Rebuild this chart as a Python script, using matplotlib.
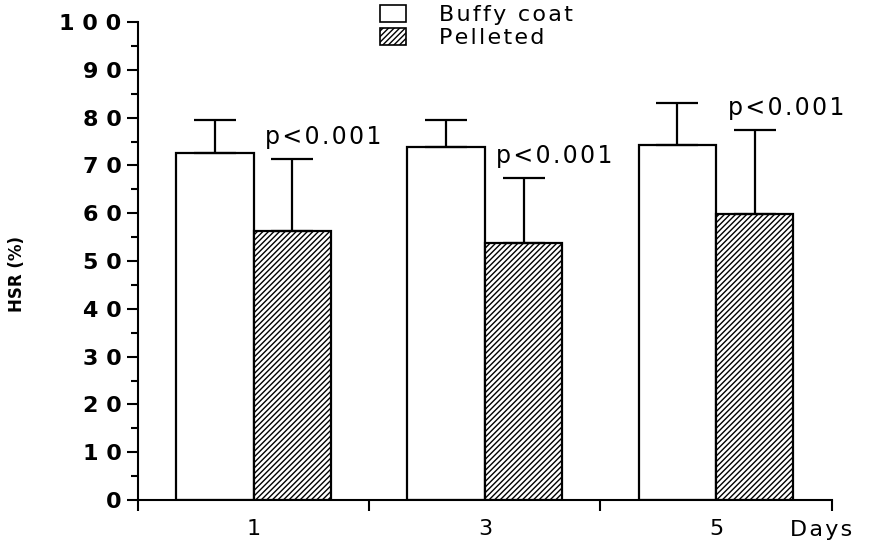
import matplotlib.pyplot as plt
import matplotlib.patches as mpatches
import numpy as np

days = ["1", "3", "5"]
buffy_mean = [72.6, 73.8, 74.3]
buffy_err = [6.9, 5.7, 8.8]
pellet_mean = [56.3, 53.8, 59.8]
pellet_err = [15.0, 13.6, 17.6]
p_labels = ["p<0.001", "p<0.001", "p<0.001"]
y_ticks = [0, 10, 20, 30, 40, 50, 60, 70, 80, 90, 100]

HAIR = "\u200a"


def spaced(s):
	# a bit of letter spacing, the original typeface is wide
	return HAIR.join(s)


plt.rcParams['hatch.linewidth'] = 1.0

fig = plt.figure(figsize=(8.69, 5.48), dpi=100)
ax = fig.add_axes([0.159, 0.0876, 0.798, 0.872])

x = np.arange(len(days))
w = 0.335
ax.bar(x - w / 2, buffy_mean, w, color="white", edgecolor="black", linewidth=1.6,
	yerr=[np.zeros(3), buffy_err], capsize=15,
	error_kw=dict(elinewidth=1.6, capthick=1.6, ecolor="black"))
ax.bar(x + w / 2, pellet_mean, w, color="white", edgecolor="black", linewidth=1.6,
	hatch="//////",
	yerr=[np.zeros(3), pellet_err], capsize=15,
	error_kw=dict(elinewidth=1.6, capthick=1.6, ecolor="black"))

for i, lab in enumerate(p_labels):
	ax.text(x[i] + 0.05, pellet_mean[i] + pellet_err[i] + 3.2, spaced(lab),
		fontsize=17, ha="left", va="baseline")

ax.set_xlim(-0.5, len(days) - 0.5)
ax.set_ylim(0, 100)

ax.set_xticks(np.arange(len(days) + 1) - 0.5)
ax.set_xticklabels([])
ax.set_xticks(x, minor=True)
ax.set_xticklabels(days, minor=True, fontsize=16)
ax.tick_params(axis="x", which="major", direction="out", length=8, width=1.5)
ax.tick_params(axis="x", which="minor", length=0, pad=14)
ax.text(0.94, -0.062, spaced("Days"), transform=ax.transAxes, fontsize=16,
	ha="left", va="center")

ax.set_yticks(y_ticks)
ax.set_yticklabels([" ".join(str(v)) for v in y_ticks], fontsize=16, fontweight="bold")
ax.set_yticks(np.arange(5, 100, 10), minor=True)
ax.tick_params(axis="y", which="major", direction="out", length=8, width=1.5, pad=4)
ax.tick_params(axis="y", which="minor", direction="out", length=5, width=1.5)

ax.spines["top"].set_visible(False)
ax.spines["right"].set_visible(False)
ax.spines["left"].set_linewidth(1.5)
ax.spines["bottom"].set_linewidth(1.5)

fig.text(0.02, 0.5, "HSR (%)", rotation=90, fontsize=12, fontweight="bold",
	ha="center", va="center")

handles = [
	mpatches.Patch(facecolor="white", edgecolor="black", linewidth=1.2, label=spaced("Buffy coat")),
	mpatches.Patch(facecolor="white", edgecolor="black", linewidth=1.2, hatch="//////", label=spaced("Pelleted")),
]
fig.legend(handles=handles, loc="upper left", bbox_to_anchor=(0.435, 0.995),
	frameon=False, fontsize=16, handlelength=1.15, handleheight=0.8,
	handletextpad=1.5, labelspacing=0.12, borderpad=0.1, borderaxespad=0)

fig.savefig("out.png", dpi=100)
